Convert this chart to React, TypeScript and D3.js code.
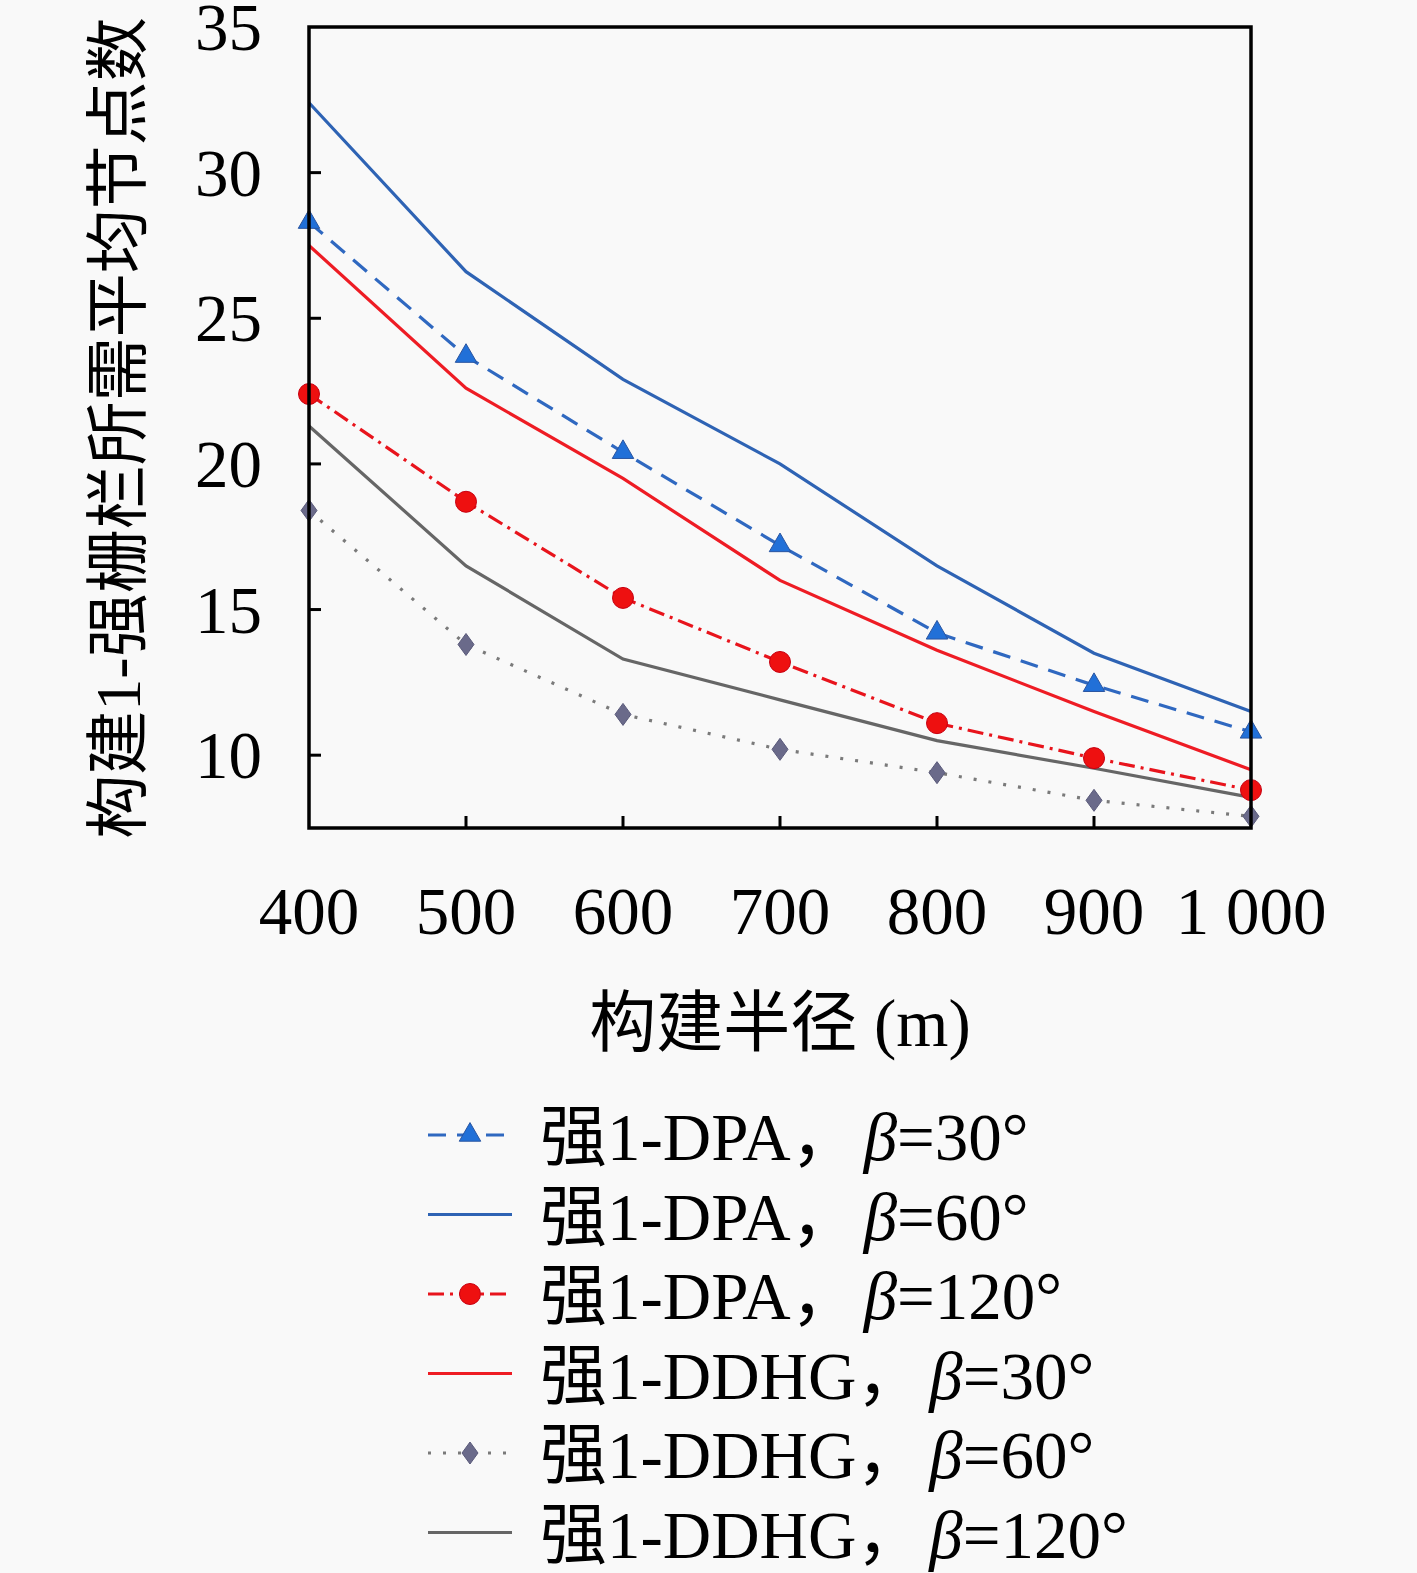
//@ts-nocheck
import { useEffect, useRef } from 'react';
import * as d3 from 'd3';

const radii = [400, 500, 600, 700, 800, 900, 1000];
const xTickLabels = ['400', '500', '600', '700', '800', '900', '1 000'];
const yTicks = [10, 15, 20, 25, 30, 35];

const dpa30 = [28.3, 23.7, 20.4, 17.2, 14.2, 12.4, 10.8];
const dpa60 = [32.4, 26.6, 22.9, 20.0, 16.5, 13.5, 11.5];
const dpa120 = [22.4, 18.7, 15.4, 13.2, 11.1, 9.9, 8.8];
const ddhg30 = [27.5, 22.6, 19.5, 16.0, 13.6, 11.5, 9.5];
const ddhg60 = [18.4, 13.8, 11.4, 10.2, 9.4, 8.45, 7.9];
const ddhg120 = [21.3, 16.5, 13.3, 11.9, 10.5, 9.55, 8.55];

const seriesNames = ['强1-DPA，', '强1-DPA，', '强1-DPA，', '强1-DDHG，', '强1-DDHG，', '强1-DDHG，'];
const seriesBeta = ['=30°', '=60°', '=120°', '=30°', '=60°', '=120°'];

const FONT = '"Liberation Serif", "DejaVu Serif", "Noto Sans CJK SC", serif';
const FS = '67px';

const App = () => {
    const svgRef = useRef();

    useEffect(() => {
        const svg = d3.select(svgRef.current);
        svg.selectAll('*').remove();

        const left = 309, right = 1251, top = 27, bottom = 828;

        const x = d3.scaleLinear().domain([400, 1000]).range([left, right]);
        const y = d3.scaleLinear().domain([7.5, 35]).range([bottom, top]);

        svg.append('rect').attr('width', 1417).attr('height', 1573).attr('fill', '#f9f9f9');

        const series = [
            { values: dpa30, color: '#2f68c0', dash: '18,11', marker: 'tri', mcolor: '#2170d8' },
            { values: dpa60, color: '#2e63b4', dash: null, marker: null },
            { values: dpa120, color: '#e8141c', dash: '16,6,3,6', marker: 'circle', mcolor: '#ee1010' },
            { values: ddhg30, color: '#ee1c24', dash: null, marker: null },
            { values: ddhg60, color: '#7a7a7a', dash: '3,12', marker: 'diamond', mcolor: '#6a6a8a' },
            { values: ddhg120, color: '#666666', dash: null, marker: null }
        ];

        const line = d3.line().x((d, i) => x(radii[i])).y(d => y(d));

        const drawMarker = (g, kind, cx, cy, color) => {
            if (kind === 'tri') {
                g.append('path')
                    .attr('d', d3.symbol().type(d3.symbolTriangle).size(200)())
                    .attr('transform', `translate(${cx},${cy})`)
                    .attr('fill', color).attr('stroke', '#2a55a0').attr('stroke-width', 1);
            } else if (kind === 'circle') {
                g.append('circle').attr('cx', cx).attr('cy', cy).attr('r', 10.5)
                    .attr('fill', color).attr('stroke', '#c80010').attr('stroke-width', 1);
            } else if (kind === 'diamond') {
                g.append('path')
                    .attr('d', `M0,-11L8,0L0,11L-8,0Z`)
                    .attr('transform', `translate(${cx},${cy})`)
                    .attr('fill', color).attr('stroke', '#5a5a7a').attr('stroke-width', 1);
            }
        };

        const plot = svg.append('g');
        series.forEach(s => {
            plot.append('path')
                .datum(s.values)
                .attr('d', line)
                .attr('fill', 'none')
                .attr('stroke', s.color)
                .attr('stroke-width', 3.2)
                .attr('stroke-dasharray', s.dash);
        });
        series.forEach(s => {
            if (!s.marker) return;
            s.values.forEach((v, i) => drawMarker(plot, s.marker, x(radii[i]), y(v), s.mcolor));
        });

        // frame
        svg.append('rect')
            .attr('x', left).attr('y', top)
            .attr('width', right - left).attr('height', bottom - top)
            .attr('fill', 'none').attr('stroke', '#000').attr('stroke-width', 3.5);

        // ticks
        radii.slice(1, -1).forEach(r => {
            svg.append('line').attr('x1', x(r)).attr('x2', x(r))
                .attr('y1', bottom).attr('y2', bottom - 12)
                .attr('stroke', '#000').attr('stroke-width', 3);
        });
        yTicks.slice(0, -1).forEach(t => {
            svg.append('line').attr('x1', left).attr('x2', left + 12)
                .attr('y1', y(t)).attr('y2', y(t))
                .attr('stroke', '#000').attr('stroke-width', 3);
        });

        // tick labels
        radii.forEach((r, i) => {
            svg.append('text')
                .attr('x', x(r)).attr('y', 934)
                .attr('text-anchor', 'middle')
                .style('font-family', FONT).style('font-size', FS)
                .text(xTickLabels[i]);
        });
        yTicks.forEach(t => {
            svg.append('text')
                .attr('x', 262).attr('y', y(t) + 23)
                .attr('text-anchor', 'end')
                .style('font-family', FONT).style('font-size', FS)
                .text(t);
        });

        // axis titles
        svg.append('text')
            .attr('x', 780).attr('y', 1046)
            .attr('text-anchor', 'middle')
            .style('font-family', FONT).style('font-size', FS)
            .text('构建半径 (m)');

        svg.append('text')
            .attr('transform', `translate(140, 428) rotate(-90)`)
            .attr('text-anchor', 'middle')
            .style('font-family', FONT).style('font-size', '64px')
            .text('构建1-强栅栏所需平均节点数');

        // legend
        const legend = svg.append('g');
        series.forEach((s, i) => {
            const ly = 1135 + i * 79.5;
            legend.append('line')
                .attr('x1', 428).attr('x2', 512)
                .attr('y1', ly).attr('y2', ly)
                .attr('stroke', s.color).attr('stroke-width', 3.2)
                .attr('stroke-dasharray', s.dash);
            if (s.marker) drawMarker(legend, s.marker, 470, ly, s.mcolor);
            const t = legend.append('text')
                .attr('x', 540).attr('y', ly + 25)
                .style('font-family', FONT).style('font-size', FS);
            t.append('tspan').text(seriesNames[i]);
            t.append('tspan').attr('dx', 6).style('font-style', 'italic').text('β');
            t.append('tspan').text(seriesBeta[i]);
        });
    }, []);

    return (
        <svg ref={svgRef} width={1417} height={1573}
            style={{ position: 'absolute', left: 0, top: 0, display: 'block' }}></svg>
    );
};

export default App;
